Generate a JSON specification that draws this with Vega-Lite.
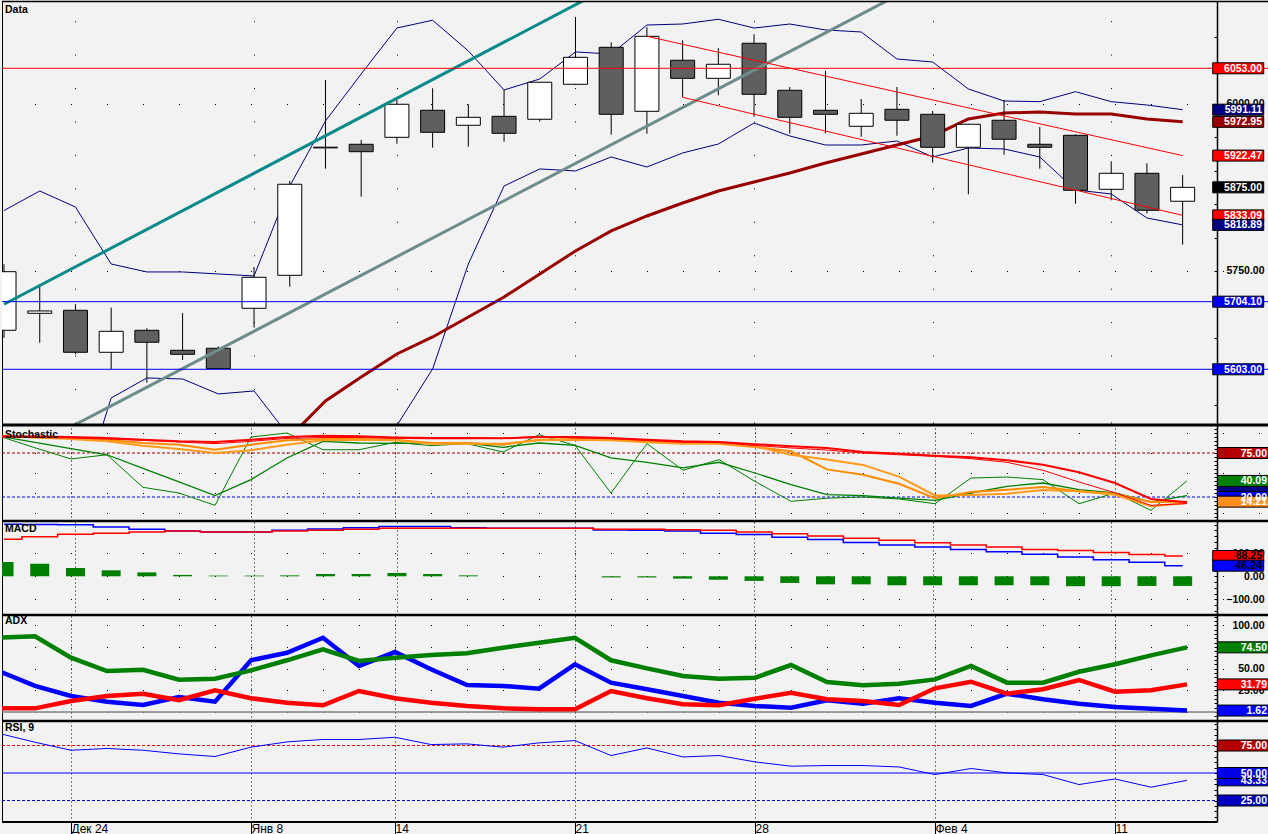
{
"$schema": "https://vega.github.io/schema/vega-lite/v6.json",
"background": "#f2f2f2",
"padding": 0,
"autosize": {"type": "pad"},
"spacing": 0,
"bounds": "flush",
"config": {"view": {"stroke": null}, "font": "Liberation Sans"},
"resolve": {"scale": {"x": "independent", "y": "independent"}, "axis": {"x": "independent", "y": "independent"}},
"datasets": {
"d": [
{"i":0,"o":5661.3,"h":5760,"l":5650,"c":5748.9,"bu":5840.3,"bl":5460,"ma":null,"r1":95.9,"r2":95,"o1":96.6,"o2":95.9,"g1":96.1,"g2":96.1,"m":226,"sg":161,"hist":62,"adx":85.6,"pdi":47,"mdi":4.2,"rsi":86},
{"i":1,"o":5686.7,"h":5730.1,"l":5642.8,"c":5690.2,"bu":5869.6,"bl":5420,"ma":null,"r1":95.5,"r2":94.4,"o1":94.4,"o2":94.8,"g1":81.5,"g2":88.3,"m":225,"sg":172,"hist":54,"adx":87.2,"pdi":30,"mdi":4.2,"rsi":78},
{"i":2,"o":5691.2,"h":5700.2,"l":5625.4,"c":5628.4,"bu":5845.6,"bl":5390,"ma":null,"r1":95,"r2":93.8,"o1":92.5,"o2":93.8,"g1":67.6,"g2":80.4,"m":224,"sg":183,"hist":36,"adx":62.6,"pdi":18.4,"mdi":12.7,"rsi":70.7},
{"i":3,"o":5628.4,"h":5695.1,"l":5603,"c":5659.8,"bu":5760.4,"bl":5560.1,"ma":null,"r1":93.8,"r2":92.5,"o1":89.6,"o2":91.6,"g1":72.8,"g2":72.8,"m":214,"sg":187,"hist":26,"adx":47.2,"pdi":11.9,"mdi":18.4,"rsi":72.3},
{"i":4,"o":5661.3,"h":5664.3,"l":5583,"c":5643.4,"bu":5748.5,"bl":5590,"ma":null,"r1":91.6,"r2":90.8,"o1":84.2,"o2":87.5,"g1":32.1,"g2":55.9,"m":204,"sg":193,"hist":17,"adx":48.7,"pdi":8.1,"mdi":21.1,"rsi":70.7},
{"i":5,"o":5631.4,"h":5687.2,"l":5616.9,"c":5625.4,"bu":5748.5,"bl":5588.5,"ma":5350,"r1":89.6,"r2":88.7,"o1":80,"o2":85.4,"g1":25,"g2":38.8,"m":197,"sg":197,"hist":6,"adx":37.2,"pdi":17.3,"mdi":13.5,"rsi":67.4},
{"i":6,"o":5634.4,"h":5637,"l":5603,"c":5604,"bu":5745.5,"bl":5566.1,"ma":5400,"r1":88.7,"r2":86.7,"o1":75,"o2":79.1,"g1":9.6,"g2":21.7,"m":193,"sg":193,"hist":3,"adx":38.4,"pdi":11.9,"mdi":25,"rsi":65},
{"i":7,"o":5694.2,"h":5755.9,"l":5665.2,"c":5740.5,"bu":5742.5,"bl":5570.6,"ma":5450,"r1":91.6,"r2":89.6,"o1":78.4,"o2":85.4,"g1":95,"g2":41.7,"m":193,"sg":193,"hist":3,"adx":48,"pdi":59.6,"mdi":15.8,"rsi":73.5},
{"i":8,"o":5743.5,"h":5884.5,"l":5726.5,"c":5879.6,"bu":5877,"bl":5501.8,"ma":5501.8,"r1":95,"r2":93.2,"o1":85.4,"o2":90.8,"g1":100,"g2":68.8,"m":200,"sg":197,"hist":4,"adx":59.6,"pdi":68.3,"mdi":10.7,"rsi":78.3},
{"i":9,"o":5935,"h":6035.5,"l":5902.9,"c":5934,"bu":5974.2,"bl":5480,"ma":5555.6,"r1":96.6,"r2":94.4,"o1":90.8,"o2":92.5,"g1":79.1,"g2":89.6,"m":206,"sg":200,"hist":10,"adx":72.2,"pdi":85.6,"mdi":7.7,"rsi":80.5},
{"i":10,"o":5939.4,"h":5945.8,"l":5861,"c":5928.3,"bu":6044.5,"bl":5490,"ma":5591.5,"r1":95.9,"r2":94.4,"o1":91.6,"o2":92.5,"g1":79.1,"g2":87.5,"m":211,"sg":204,"hist":10,"adx":58.8,"pdi":53,"mdi":24.2,"rsi":80.5},
{"i":11,"o":5949.8,"h":6005.6,"l":5940.3,"c":5999.2,"bu":6113.2,"bl":5519,"ma":5625.9,"r1":94.4,"r2":93.3,"o1":90.8,"o2":91.6,"g1":88.3,"g2":87.1,"m":216,"sg":209,"hist":14.5,"adx":62.6,"pdi":69.1,"mdi":15.8,"rsi":82.5},
{"i":12,"o":5990.2,"h":6023.1,"l":5934.3,"c":5957.3,"bu":6124.8,"bl":5603.5,"ma":5651.3,"r1":93.8,"r2":92.8,"o1":86.7,"o2":87.5,"g1":84.2,"g2":87.5,"m":216,"sg":209,"hist":10,"adx":65.7,"pdi":49.2,"mdi":10.7,"rsi":75.9},
{"i":13,"o":5967.8,"h":5999.2,"l":5935.8,"c":5979.7,"bu":6078.9,"bl":5760.4,"ma":5681.2,"r1":93.8,"r2":92.8,"o1":86.7,"o2":87.5,"g1":86.7,"g2":87.5,"m":211,"sg":209,"hist":4,"adx":67.6,"pdi":31.1,"mdi":6.9,"rsi":76.5},
{"i":14,"o":5981.2,"h":6020.6,"l":5943.3,"c":5955.8,"bu":6020.6,"bl":5877,"ma":5711.1,"r1":93.3,"r2":93.3,"o1":86.7,"o2":85.4,"g1":76.2,"g2":82.1,"m":209,"sg":209,"hist":0,"adx":74.1,"pdi":30,"mdi":4.2,"rsi":73.5},
{"i":15,"o":5976.8,"h":6032.5,"l":5973.2,"c":6032.1,"bu":6037,"bl":5902.5,"ma":5745.5,"r1":95,"r2":95.9,"o1":90.8,"o2":91.6,"g1":97.9,"g2":87.5,"m":209,"sg":209,"hist":0,"adx":79.8,"pdi":26.8,"mdi":3.1,"rsi":77.4},
{"i":16,"o":6029.1,"h":6129.7,"l":6028,"c":6069.4,"bu":6077.4,"bl":5899.5,"ma":5779.9,"r1":95,"r2":93.8,"o1":91.6,"o2":92.5,"g1":84.5,"g2":84.5,"m":209,"sg":209,"hist":0,"adx":85.6,"pdi":55,"mdi":3.1,"rsi":79.5},
{"i":17,"o":6084.4,"h":6091.9,"l":5953.7,"c":5984.2,"bu":6074.4,"bl":5920.4,"ma":5809.8,"r1":93.8,"r2":92.8,"o1":90.8,"o2":91.6,"g1":25,"g2":68.8,"m":201,"sg":204,"hist":-5,"adx":59.6,"pdi":33.8,"mdi":24.2,"rsi":65.9},
{"i":18,"o":5988.7,"h":6114.7,"l":5955.2,"c":6100.8,"bu":6117.7,"bl":5905.4,"ma":5832.2,"r1":91.6,"r2":90.8,"o1":88.4,"o2":89.6,"g1":86.7,"g2":63.4,"m":200,"sg":204,"hist":-5,"adx":50.3,"pdi":26.2,"mdi":15.8,"rsi":72.8},
{"i":19,"o":6065,"h":6094.9,"l":6009.6,"c":6038,"bu":6119.2,"bl":5926.4,"ma":5851.6,"r1":89.6,"r2":88.3,"o1":86.7,"o2":87.5,"g1":53.4,"g2":56.3,"m":197,"sg":202,"hist":-10,"adx":41.5,"pdi":18.4,"mdi":8.9,"rsi":64.6},
{"i":20,"o":6038,"h":6082.9,"l":6012.6,"c":6059,"bu":6126.3,"bl":5939.8,"ma":5869.6,"r1":88.7,"r2":88.3,"o1":87.5,"o2":86.7,"g1":66.7,"g2":63.4,"m":187,"sg":200,"hist":-15,"adx":38.4,"pdi":10.7,"mdi":7.7,"rsi":65.9},
{"i":21,"o":6090.4,"h":6103.8,"l":5980.6,"c":6014.1,"bu":6113.2,"bl":5971.2,"ma":5883,"r1":86,"r2":84.3,"o1":83.3,"o2":82.6,"g1":39.5,"g2":50,"m":182,"sg":193,"hist":-20,"adx":39.5,"pdi":6.9,"mdi":15.3,"rsi":60.1},
{"i":22,"o":6020.1,"h":6025,"l":5955.2,"c":5979.7,"bu":6119.2,"bl":5951.8,"ma":5896.5,"r1":83.3,"r2":81.3,"o1":72.8,"o2":77.1,"g1":14.6,"g2":35.4,"m":170,"sg":185,"hist":-29,"adx":54.1,"pdi":5,"mdi":22.2,"rsi":56.2},
{"i":23,"o":5990.2,"h":6049,"l":5955.8,"c":5984.2,"bu":6110.3,"bl":5938.3,"ma":5911.4,"r1":81.3,"r2":78.7,"o1":66.9,"o2":54.5,"g1":18.5,"g2":22.9,"m":160,"sg":175,"hist":-35,"adx":34.6,"pdi":13.5,"mdi":14.6,"rsi":56.8},
{"i":24,"o":5966.3,"h":6007.1,"l":5950.7,"c":5985.7,"bu":6107.3,"bl":5938.3,"ma":5924.9,"r1":76.2,"r2":75,"o1":60.1,"o2":47.8,"g1":20,"g2":21.7,"m":147,"sg":165,"hist":-35,"adx":30.7,"pdi":9.6,"mdi":12.7,"rsi":56.8},
{"i":25,"o":5991.7,"h":6025,"l":5952.2,"c":5975.3,"bu":6066.9,"bl":5944.3,"ma":5938.3,"r1":74.1,"r2":72.8,"o1":45.5,"o2":36.5,"g1":17.5,"g2":18.7,"m":136,"sg":157,"hist":-39,"adx":32.6,"pdi":15.8,"mdi":8.1,"rsi":55.5},
{"i":26,"o":5984.2,"h":5989.2,"l":5911.9,"c":5934.9,"bu":6062.4,"bl":5920.4,"ma":5951.8,"r1":71.6,"r2":70.8,"o1":21.9,"o2":18.5,"g1":11.6,"g2":15.9,"m":127,"sg":146,"hist":-39,"adx":37.6,"pdi":10.7,"mdi":27.3,"rsi":48.6},
{"i":27,"o":5934.9,"h":5970,"l":5864.6,"c":5969.3,"bu":6022.1,"bl":5933.8,"ma":5977.2,"r1":69.6,"r2":67.9,"o1":22.4,"o2":26.4,"g1":43.7,"g2":25,"m":117,"sg":136,"hist":-39,"adx":53,"pdi":6.9,"mdi":34.9,"rsi":54.1},
{"i":28,"o":5975.3,"h":6005.6,"l":5923.8,"c":5946.9,"bu":6004.1,"bl":5932.4,"ma":5986.2,"r1":65.9,"r2":63.4,"o1":24.1,"o2":29.1,"g1":45,"g2":33.4,"m":107,"sg":127,"hist":-39,"adx":33.8,"pdi":21.1,"mdi":21.1,"rsi":50.1},
{"i":29,"o":5939.4,"h":5965.2,"l":5902.9,"c":5934.9,"bu":6003.1,"bl":5920.4,"ma":5987.7,"r1":60.4,"r2":53.4,"o1":28.6,"o2":32.5,"g1":41.7,"g2":37.5,"m":96,"sg":117,"hist":-39,"adx":33.8,"pdi":14.6,"mdi":26.2,"rsi":48.6},
{"i":30,"o":5952.8,"h":5954,"l":5850.6,"c":5870.6,"bu":6018,"bl":5871.1,"ma":5984.7,"r1":50.9,"r2":38.8,"o1":27.2,"o2":27.2,"g1":11.6,"g2":29.1,"m":84,"sg":112,"hist":-43,"adx":46.4,"pdi":9.6,"mdi":36.9,"rsi":39.5},
{"i":31,"o":5872.1,"h":5914,"l":5855.7,"c":5896,"bu":6003.1,"bl":5865.1,"ma":5984.7,"r1":37.5,"r2":25.3,"o1":22.9,"o2":24.1,"g1":25,"g2":25,"m":72,"sg":103,"hist":-43,"adx":55,"pdi":5.8,"mdi":23.4,"rsi":44.6},
{"i":32,"o":5896,"h":5911,"l":5835.6,"c":5840.7,"bu":5998.1,"bl":5829.2,"ma":5977.2,"r1":17.5,"r2":9.5,"o1":8.4,"o2":13.8,"g1":3.3,"g2":13.8,"m":61,"sg":95,"hist":-42,"adx":65.3,"pdi":3.8,"mdi":25,"rsi":37.1},
{"i":33,"o":5854.2,"h":5893.5,"l":5789.3,"c":5875,"bu":5991.11,"bl":5818.89,"ma":5972.95,"r1":13.3,"r2":11.8,"o1":12.5,"o2":14.21,"g1":40.09,"g2":21.7,"m":46.24,"sg":88.25,"hist":-42,"adx":74.5,"pdi":1.62,"mdi":31.79,"rsi":43.33}
],
"teal": [{"s":"a","i":0,"v":5700.2},{"s":"a","i":17,"v":6176},{"s":"b","i":0,"v":5464.7},{"s":"b","i":25,"v":6161.7}],
"chan": [{"s":"a","i":18,"v":6100.8},{"s":"a","i":33,"v":5922.47},{"s":"b","i":19,"v":6009.6},{"s":"b","i":33,"v":5833.09}],
"lv_main": [{"v":6053,"s":"red"},{"v":5704.1,"s":"blue"},{"v":5603,"s":"blue"}],
"lv_st": [{"v":75,"s":"dred"},{"v":20,"s":"blue"}],
"lv_adx": [{"v":0}],
"lv_rsi_d": [{"v":75,"s":"red"},{"v":25,"s":"blue"}],
"lv_rsi_s": [{"v":50}],
"lab_main": [{"v":6053,"s":"red"},{"v":5991.11,"s":"navy"},{"v":5972.95,"s":"darkred"},{"v":5922.47,"s":"red"},{"v":5875,"s":"black"},{"v":5833.09,"s":"red"},{"v":5818.89,"s":"navy"},{"v":5704.1,"s":"blue"},{"v":5603,"s":"blue"}],
"lab_st": [{"v":26.8,"s":"navy"},{"v":20,"s":"blue"},{"v":40.09,"s":"green"},{"v":14.21,"s":"orange"},{"v":75,"s":"dred"}],
"lab_macd": [{"v":88.25,"s":"red"},{"v":46.24,"s":"blue"}],
"lab_adx": [{"v":74.5,"s":"green"},{"v":31.79,"s":"red"},{"v":1.62,"s":"blue"}],
"lab_rsi": [{"v":75,"s":"dred"},{"v":43.33,"s":"blue"},{"v":50,"s":"blue"},{"v":25,"s":"blue2"}]
},
"vconcat": [
{
"width": 1268, "height": 424,
"title": {"text": "Data", "anchor": "start", "frame": "group", "offset": -15, "dx": 3, "fontSize": 10.5, "fontWeight": "bold", "color": "#000", "font": "Liberation Sans"},
"resolve": {"axis": {"x": "independent", "y": "independent"}},
"layer": [
{"data": {"name": "d"}, "mark": {"type": "line", "color": "#000080", "strokeWidth": 1, "clip": true},
 "encoding": {
  "x": {"field": "i", "type": "quantitative", "scale": {"domain": [0.0833, 35.3056], "nice": false, "zero": false},
        "axis": {"orient": "top", "values": [2,7,11,16,21,26,31], "labels": false, "ticks": false, "domain": false, "grid": true, "gridColor": "#000", "gridWidth": 1, "gridDash": [1, 32.44], "gridDashOffset": 31.4, "title": null}},
  "y": {"field": "bu", "type": "quantitative", "scale": {"domain": [5519.7, 6153.6], "nice": false, "zero": false},
        "axis": {"orient": "right", "offset": -53, "values": [5550,5600,5650,5700,5750,5800,5850,5900,5950,6000,6050,6100], "labelExpr": "datum.value % 250 == 0 ? format(datum.value, '.2f') : ''", "tickSize": -3, "tickColor": "#000", "domainColor": "#000", "domainWidth": 1.5, "labelPadding": 50, "labelAlign": "right", "labelBaseline": "middle", "labelFontSize": 10.5, "labelFontWeight": "bold", "labelColor": "#000", "labelFont": "Liberation Sans", "grid": false, "title": null, "labelOverlap": false, "labelFlush": false}}
 }},
{"data": {"name": "d"}, "mark": {"type": "line", "color": "#000080", "strokeWidth": 1, "clip": true},
 "encoding": {
  "x": {"field": "i", "type": "quantitative", "scale": {"domain": [0.0833, 35.3056], "nice": false, "zero": false}, "axis": null},
  "y": {"field": "bl", "type": "quantitative", "scale": {"domain": [5519.7, 6153.6], "nice": false, "zero": false},
        "axis": {"orient": "left", "values": [5750, 6000], "labels": false, "ticks": false, "domain": true, "domainColor": "#000", "domainWidth": 1, "grid": true, "gridColor": "#000", "gridWidth": 1, "gridDash": [1, 35], "gridDashOffset": 3.5, "title": null}}
 }},
{"data": {"name": "d"}, "mark": {"type": "line", "color": "#990000", "strokeWidth": 3, "clip": true},
 "encoding": {
  "x": {"field": "i", "type": "quantitative", "scale": {"domain": [0.0833, 35.3056], "nice": false, "zero": false}, "axis": null},
  "y": {"field": "ma", "type": "quantitative", "scale": {"domain": [5519.7, 6153.6], "nice": false, "zero": false}, "axis": null}
 }},
{"data": {"name": "d"}, "mark": {"type": "rule", "color": "#000", "strokeWidth": 1, "clip": true},
 "encoding": {
  "x": {"field": "i", "type": "quantitative", "scale": {"domain": [0.0833, 35.3056], "nice": false, "zero": false}, "axis": null},
  "y": {"field": "l", "type": "quantitative", "scale": {"domain": [5519.7, 6153.6], "nice": false, "zero": false}, "axis": null},
  "y2": {"field": "h"}
 }},
{"data": {"name": "d"}, "mark": {"type": "bar", "width": 24, "stroke": "#000", "strokeWidth": 1, "orient": "vertical", "clip": true},
 "encoding": {
  "x": {"field": "i", "type": "quantitative", "scale": {"domain": [0.0833, 35.3056], "nice": false, "zero": false}, "axis": null},
  "y": {"field": "o", "type": "quantitative", "scale": {"domain": [5519.7, 6153.6], "nice": false, "zero": false}, "axis": null},
  "y2": {"field": "c"},
  "fill": {"condition": {"test": "datum.c >= datum.o", "value": "#ffffff"}, "value": "#5f5f5f"}
 }},
{"data": {"name": "teal"}, "mark": {"type": "line", "strokeWidth": 3, "clip": true},
 "encoding": {
  "x": {"field": "i", "type": "quantitative", "scale": {"domain": [0.0833, 35.3056], "nice": false, "zero": false}, "axis": null},
  "y": {"field": "v", "type": "quantitative", "scale": {"domain": [5519.7, 6153.6], "nice": false, "zero": false}, "axis": null},
  "detail": {"field": "s"},
  "stroke": {"condition": {"test": "datum.s == 'a'", "value": "#0a8a8a"}, "value": "#6e8c8c"}
 }},
{"data": {"name": "chan"}, "mark": {"type": "line", "strokeWidth": 1, "color": "#ff0000", "clip": true},
 "encoding": {
  "x": {"field": "i", "type": "quantitative", "scale": {"domain": [0.0833, 35.3056], "nice": false, "zero": false}, "axis": null},
  "y": {"field": "v", "type": "quantitative", "scale": {"domain": [5519.7, 6153.6], "nice": false, "zero": false}, "axis": null},
  "detail": {"field": "s"}
 }},
{"data": {"name": "lv_main"}, "mark": {"type": "rule", "strokeWidth": 1},
 "encoding": {
  "y": {"field": "v", "type": "quantitative", "scale": {"domain": [5519.7, 6153.6], "nice": false, "zero": false}, "axis": null},
  "stroke": {"condition": {"test": "datum.s == 'red'", "value": "#ff0000"}, "value": "#0000ee"}
 }},
{"data": {"name": "lab_main"}, "mark": {"type": "tick", "orient": "horizontal", "size": 51, "thickness": 11, "stroke": "#000", "strokeWidth": 1, "opacity": 1},
 "encoding": {
  "x": {"datum": 34.5556, "type": "quantitative", "scale": {"domain": [0.0833, 35.3056], "nice": false, "zero": false}, "axis": null},
  "y": {"field": "v", "type": "quantitative", "scale": {"domain": [5519.7, 6153.6], "nice": false, "zero": false}, "axis": null},
  "fill": {"condition": [{"test": "datum.s == 'red'", "value": "#ff0000"}, {"test": "datum.s == 'navy'", "value": "#000080"}, {"test": "datum.s == 'darkred'", "value": "#990000"}, {"test": "datum.s == 'blue'", "value": "#0000ee"}], "value": "#000000"}
 }},
{"data": {"name": "lab_main"}, "mark": {"type": "text", "align": "right", "baseline": "middle", "fontSize": 10.5, "fontWeight": "bold", "color": "#ffffff", "dy": 0.5},
 "encoding": {
  "x": {"datum": 35.2222, "type": "quantitative", "scale": {"domain": [0.0833, 35.3056], "nice": false, "zero": false}, "axis": null},
  "y": {"field": "v", "type": "quantitative", "scale": {"domain": [5519.7, 6153.6], "nice": false, "zero": false}, "axis": null},
  "text": {"field": "v", "type": "quantitative", "format": ".2f"}
 }},
{"data": {"values": [{}]}, "mark": {"type": "rule", "color": "#000", "strokeWidth": 1.5},
 "encoding": {"y": {"datum": 6152.9, "type": "quantitative", "scale": {"domain": [5519.7, 6153.6], "nice": false, "zero": false}, "axis": null}}},
{"data": {"values": [{}]}, "mark": {"type": "rule", "color": "#000", "strokeWidth": 3},
 "encoding": {"y": {"datum": 5519.7, "type": "quantitative", "scale": {"domain": [5519.7, 6153.6], "nice": false, "zero": false}, "axis": null}}}
]
},
{
"width": 1268, "height": 96,
"title": {"text": "Stochastic", "anchor": "start", "frame": "group", "offset": -15, "dx": 3, "fontSize": 10.5, "fontWeight": "bold", "color": "#000", "font": "Liberation Sans"},
"resolve": {"axis": {"x": "independent", "y": "independent"}},
"layer": [
{"data": {"name": "lv_st"}, "mark": {"type": "rule", "strokeWidth": 1, "strokeDash": [3, 2]},
 "encoding": {
  "y": {"field": "v", "type": "quantitative", "scale": {"domain": [-10, 110], "nice": false, "zero": false},
        "axis": {"orient": "left", "values": [0, 25, 50, 75, 100], "labels": false, "ticks": false, "domain": true, "domainColor": "#000", "domainWidth": 1, "grid": true, "gridColor": "#000", "gridWidth": 1, "gridDash": [1, 35], "gridDashOffset": 3.5, "title": null}},
  "stroke": {"condition": {"test": "datum.s == 'dred'", "value": "#a00000"}, "value": "#0000ff"}
 }},
{"data": {"name": "d"}, "mark": {"type": "line", "color": "#008000", "strokeWidth": 1, "clip": true},
 "encoding": {
  "x": {"field": "i", "type": "quantitative", "scale": {"domain": [0.0833, 35.3056], "nice": false, "zero": false},
        "axis": {"orient": "top", "values": [2,7,11,16,21,26,31], "labels": false, "ticks": false, "domain": false, "grid": true, "gridColor": "#000", "gridWidth": 1, "gridDash": [1, 3], "title": null}},
  "y": {"field": "g1", "type": "quantitative", "scale": {"domain": [-10, 110], "nice": false, "zero": false},
        "axis": {"orient": "right", "offset": -53, "values": [-5,0,5,10,15,20,25,30,35,40,45,50,55,60,65,70,75,80,85,90,95,100,105], "labels": false, "tickSize": -3, "tickColor": "#000", "domainColor": "#000", "domainWidth": 1.5, "grid": false, "title": null}}
 }},
{"data": {"name": "d"}, "mark": {"type": "line", "color": "#008000", "strokeWidth": 1.3, "clip": true},
 "encoding": {
  "x": {"field": "i", "type": "quantitative", "scale": {"domain": [0.0833, 35.3056], "nice": false, "zero": false}, "axis": null},
  "y": {"field": "g2", "type": "quantitative", "scale": {"domain": [-10, 110], "nice": false, "zero": false}, "axis": null}
 }},
{"data": {"name": "d"}, "mark": {"type": "line", "color": "#ff8c00", "strokeWidth": 2, "clip": true},
 "encoding": {
  "x": {"field": "i", "type": "quantitative", "scale": {"domain": [0.0833, 35.3056], "nice": false, "zero": false}, "axis": null},
  "y": {"field": "o2", "type": "quantitative", "scale": {"domain": [-10, 110], "nice": false, "zero": false}, "axis": null}
 }},
{"data": {"name": "d"}, "mark": {"type": "line", "color": "#ff9a1a", "strokeWidth": 2, "clip": true},
 "encoding": {
  "x": {"field": "i", "type": "quantitative", "scale": {"domain": [0.0833, 35.3056], "nice": false, "zero": false}, "axis": null},
  "y": {"field": "o1", "type": "quantitative", "scale": {"domain": [-10, 110], "nice": false, "zero": false}, "axis": null}
 }},
{"data": {"name": "d"}, "mark": {"type": "line", "color": "#ff0000", "strokeWidth": 1, "clip": true},
 "encoding": {
  "x": {"field": "i", "type": "quantitative", "scale": {"domain": [0.0833, 35.3056], "nice": false, "zero": false}, "axis": null},
  "y": {"field": "r2", "type": "quantitative", "scale": {"domain": [-10, 110], "nice": false, "zero": false}, "axis": null}
 }},
{"data": {"name": "d"}, "mark": {"type": "line", "color": "#ff0000", "strokeWidth": 2, "clip": true},
 "encoding": {
  "x": {"field": "i", "type": "quantitative", "scale": {"domain": [0.0833, 35.3056], "nice": false, "zero": false}, "axis": null},
  "y": {"field": "r1", "type": "quantitative", "scale": {"domain": [-10, 110], "nice": false, "zero": false}, "axis": null}
 }},
{"data": {"name": "lab_st"}, "mark": {"type": "tick", "orient": "horizontal", "size": 51, "thickness": 11, "stroke": "#000", "strokeWidth": 1, "opacity": 1},
 "encoding": {
  "x": {"datum": 34.5556, "type": "quantitative", "scale": {"domain": [0.0833, 35.3056], "nice": false, "zero": false}, "axis": null},
  "y": {"field": "v", "type": "quantitative", "scale": {"domain": [-10, 110], "nice": false, "zero": false}, "axis": null},
  "fill": {"condition": [{"test": "datum.s == 'navy'", "value": "#000080"}, {"test": "datum.s == 'blue'", "value": "#0000ee"}, {"test": "datum.s == 'green'", "value": "#008000"}, {"test": "datum.s == 'orange'", "value": "#ff9020"}], "value": "#b40000"}
 }},
{"data": {"name": "lab_st"}, "transform": [{"filter": "datum.s != 'navy'"}], "mark": {"type": "text", "align": "right", "baseline": "middle", "fontSize": 10.5, "fontWeight": "bold", "color": "#ffffff", "dy": 0.5},
 "encoding": {
  "x": {"datum": 35.2222, "type": "quantitative", "scale": {"domain": [0.0833, 35.3056], "nice": false, "zero": false}, "axis": null},
  "y": {"field": "v", "type": "quantitative", "scale": {"domain": [-10, 110], "nice": false, "zero": false}, "axis": null},
  "text": {"field": "v", "type": "quantitative", "format": ".2f"}
 }},
{"data": {"values": [{}]}, "mark": {"type": "rule", "color": "#000", "strokeWidth": 2.5},
 "encoding": {"y": {"datum": -10, "type": "quantitative", "scale": {"domain": [-10, 110], "nice": false, "zero": false}, "axis": null}}}
]
},
{
"width": 1268, "height": 94,
"title": {"text": "MACD", "anchor": "start", "frame": "group", "offset": -15, "dx": 3, "fontSize": 10.5, "fontWeight": "bold", "color": "#000", "font": "Liberation Sans"},
"resolve": {"axis": {"x": "independent", "y": "independent"}},
"layer": [
{"data": {"name": "d"}, "mark": {"type": "bar", "width": 19, "color": "#008000", "orient": "vertical", "clip": true},
 "encoding": {
  "x": {"field": "i", "type": "quantitative", "scale": {"domain": [0.0833, 35.3056], "nice": false, "zero": false},
        "axis": {"orient": "top", "values": [2,7,11,16,21,26,31], "labels": false, "ticks": false, "domain": false, "grid": true, "gridColor": "#000", "gridWidth": 1, "gridDash": [1, 3], "title": null}},
  "y": {"field": "hist", "type": "quantitative", "scale": {"domain": [-168.3, 240.4], "nice": false, "zero": false},
        "axis": {"orient": "right", "offset": -53, "values": [-150,-125,-100,-75,-50,-25,0,25,50,75,100,125,150,175,200,225], "labelExpr": "(datum.value == 100 || datum.value == 0 || datum.value == -100) ? format(datum.value, '.2f') : ''", "tickSize": -3, "tickColor": "#000", "domainColor": "#000", "domainWidth": 1.5, "labelPadding": 50, "labelAlign": "right", "labelBaseline": "middle", "labelFontSize": 10.5, "labelFontWeight": "bold", "labelColor": "#000", "labelFont": "Liberation Sans", "grid": false, "title": null, "labelOverlap": false, "labelFlush": false}},
  "y2": {"datum": 0}
 }},
{"data": {"name": "d"}, "mark": {"type": "line", "color": "#0000ff", "strokeWidth": 1.5, "interpolate": "step", "clip": true},
 "encoding": {
  "x": {"field": "i", "type": "quantitative", "scale": {"domain": [0.0833, 35.3056], "nice": false, "zero": false}, "axis": null},
  "y": {"field": "m", "type": "quantitative", "scale": {"domain": [-168.3, 240.4], "nice": false, "zero": false},
        "axis": {"orient": "left", "values": [-100, 0, 100], "labels": false, "ticks": false, "domain": true, "domainColor": "#000", "domainWidth": 1, "grid": true, "gridColor": "#000", "gridWidth": 1, "gridDash": [1, 35], "gridDashOffset": 3.5, "title": null}}
 }},
{"data": {"name": "d"}, "mark": {"type": "line", "color": "#ff0000", "strokeWidth": 1.5, "interpolate": "step", "clip": true},
 "encoding": {
  "x": {"field": "i", "type": "quantitative", "scale": {"domain": [0.0833, 35.3056], "nice": false, "zero": false}, "axis": null},
  "y": {"field": "sg", "type": "quantitative", "scale": {"domain": [-168.3, 240.4], "nice": false, "zero": false}, "axis": null}
 }},
{"data": {"name": "lab_macd"}, "mark": {"type": "tick", "orient": "horizontal", "size": 51, "thickness": 11, "stroke": "#000", "strokeWidth": 1, "opacity": 1},
 "encoding": {
  "x": {"datum": 34.5556, "type": "quantitative", "scale": {"domain": [0.0833, 35.3056], "nice": false, "zero": false}, "axis": null},
  "y": {"field": "v", "type": "quantitative", "scale": {"domain": [-168.3, 240.4], "nice": false, "zero": false}, "axis": null},
  "fill": {"condition": {"test": "datum.s == 'red'", "value": "#ff0000"}, "value": "#0000ff"}
 }},
{"data": {"name": "lab_macd"}, "mark": {"type": "text", "align": "right", "baseline": "middle", "fontSize": 10.5, "fontWeight": "bold", "color": "#000000", "dy": 0.5},
 "encoding": {
  "x": {"datum": 35.2222, "type": "quantitative", "scale": {"domain": [0.0833, 35.3056], "nice": false, "zero": false}, "axis": null},
  "y": {"field": "v", "type": "quantitative", "scale": {"domain": [-168.3, 240.4], "nice": false, "zero": false}, "axis": null},
  "text": {"field": "v", "type": "quantitative", "format": ".2f"}
 }},
{"data": {"values": [{}]}, "mark": {"type": "rule", "color": "#000", "strokeWidth": 2.5},
 "encoding": {"y": {"datum": -168.3, "type": "quantitative", "scale": {"domain": [-168.3, 240.4], "nice": false, "zero": false}, "axis": null}}}
]
},
{
"width": 1268, "height": 106,
"title": {"text": "ADX", "anchor": "start", "frame": "group", "offset": -15, "dx": 3, "fontSize": 10.5, "fontWeight": "bold", "color": "#000", "font": "Liberation Sans"},
"resolve": {"axis": {"x": "independent", "y": "independent"}},
"layer": [
{"data": {"name": "lv_adx"}, "mark": {"type": "rule", "color": "#808080", "strokeWidth": 1.5},
 "encoding": {
  "y": {"field": "v", "type": "quantitative", "scale": {"domain": [-10.4, 111.8], "nice": false, "zero": false}, "axis": null}
 }},
{"data": {"name": "d"}, "mark": {"type": "line", "color": "#0000ff", "strokeWidth": 4.5, "clip": true},
 "encoding": {
  "x": {"field": "i", "type": "quantitative", "scale": {"domain": [0.0833, 35.3056], "nice": false, "zero": false},
        "axis": {"orient": "top", "values": [2,7,11,16,21,26,31], "labels": false, "ticks": false, "domain": false, "grid": true, "gridColor": "#000", "gridWidth": 1, "gridDash": [1, 3], "title": null}},
  "y": {"field": "pdi", "type": "quantitative", "scale": {"domain": [-10.4, 111.8], "nice": false, "zero": false},
        "axis": {"orient": "right", "offset": -53, "values": [-5,0,5,10,15,20,25,30,35,40,45,50,55,60,65,70,75,80,85,90,95,100,105,110], "labelExpr": "datum.value % 25 == 0 ? format(datum.value, '.2f') : ''", "tickSize": -3, "tickColor": "#000", "domainColor": "#000", "domainWidth": 1.5, "labelPadding": 50, "labelAlign": "right", "labelBaseline": "middle", "labelFontSize": 10.5, "labelFontWeight": "bold", "labelColor": "#000", "labelFont": "Liberation Sans", "grid": false, "title": null, "labelOverlap": false, "labelFlush": false}}
 }},
{"data": {"name": "d"}, "mark": {"type": "line", "color": "#ff0000", "strokeWidth": 4.5, "clip": true},
 "encoding": {
  "x": {"field": "i", "type": "quantitative", "scale": {"domain": [0.0833, 35.3056], "nice": false, "zero": false}, "axis": null},
  "y": {"field": "mdi", "type": "quantitative", "scale": {"domain": [-10.4, 111.8], "nice": false, "zero": false},
        "axis": {"orient": "left", "values": [0, 25, 50, 75, 100], "labels": false, "ticks": false, "domain": true, "domainColor": "#000", "domainWidth": 1, "grid": true, "gridColor": "#000", "gridWidth": 1, "gridDash": [1, 35], "gridDashOffset": 3.5, "title": null}}
 }},
{"data": {"name": "d"}, "mark": {"type": "line", "color": "#008000", "strokeWidth": 4.5, "clip": true},
 "encoding": {
  "x": {"field": "i", "type": "quantitative", "scale": {"domain": [0.0833, 35.3056], "nice": false, "zero": false}, "axis": null},
  "y": {"field": "adx", "type": "quantitative", "scale": {"domain": [-10.4, 111.8], "nice": false, "zero": false}, "axis": null}
 }},
{"data": {"name": "lab_adx"}, "mark": {"type": "tick", "orient": "horizontal", "size": 51, "thickness": 11, "stroke": "#000", "strokeWidth": 1, "opacity": 1},
 "encoding": {
  "x": {"datum": 34.5556, "type": "quantitative", "scale": {"domain": [0.0833, 35.3056], "nice": false, "zero": false}, "axis": null},
  "y": {"field": "v", "type": "quantitative", "scale": {"domain": [-10.4, 111.8], "nice": false, "zero": false}, "axis": null},
  "fill": {"condition": [{"test": "datum.s == 'green'", "value": "#008000"}, {"test": "datum.s == 'red'", "value": "#ff0000"}], "value": "#0000ff"}
 }},
{"data": {"name": "lab_adx"}, "mark": {"type": "text", "align": "right", "baseline": "middle", "fontSize": 10.5, "fontWeight": "bold", "color": "#ffffff", "dy": 0.5},
 "encoding": {
  "x": {"datum": 35.2222, "type": "quantitative", "scale": {"domain": [0.0833, 35.3056], "nice": false, "zero": false}, "axis": null},
  "y": {"field": "v", "type": "quantitative", "scale": {"domain": [-10.4, 111.8], "nice": false, "zero": false}, "axis": null},
  "text": {"field": "v", "type": "quantitative", "format": ".2f"}
 }},
{"data": {"values": [{}]}, "mark": {"type": "rule", "color": "#000", "strokeWidth": 2.5},
 "encoding": {"y": {"datum": -10.4, "type": "quantitative", "scale": {"domain": [-10.4, 111.8], "nice": false, "zero": false}, "axis": null}}}
]
},
{
"width": 1268, "height": 101,
"title": {"text": "RSI, 9", "anchor": "start", "frame": "group", "offset": -15, "dx": 3, "fontSize": 10.5, "fontWeight": "bold", "color": "#000", "font": "Liberation Sans"},
"resolve": {"axis": {"x": "independent", "y": "independent"}},
"layer": [
{"data": {"name": "lv_rsi_d"}, "mark": {"type": "rule", "strokeWidth": 1, "strokeDash": [3, 2]},
 "encoding": {
  "y": {"field": "v", "type": "quantitative", "scale": {"domain": [5.45, 97.3], "nice": false, "zero": false},
        "axis": {"orient": "left", "values": [25, 50, 75], "labels": false, "ticks": false, "domain": true, "domainColor": "#000", "domainWidth": 1, "grid": false, "title": null}},
  "stroke": {"condition": {"test": "datum.s == 'red'", "value": "#e00000"}, "value": "#0000cc"}
 }},
{"data": {"name": "lv_rsi_s"}, "mark": {"type": "rule", "strokeWidth": 1, "color": "#0000ff"},
 "encoding": {
  "y": {"field": "v", "type": "quantitative", "scale": {"domain": [5.45, 97.3], "nice": false, "zero": false}, "axis": null}
 }},
{"data": {"name": "d"}, "mark": {"type": "line", "color": "#0000ff", "strokeWidth": 1, "clip": true},
 "encoding": {
  "x": {"field": "i", "type": "quantitative", "scale": {"domain": [0.0833, 35.3056], "nice": false, "zero": false},
        "axis": {"orient": "top", "values": [2,7,11,16,21,26,31], "labels": false, "ticks": false, "domain": false, "grid": true, "gridColor": "#000", "gridWidth": 1, "gridDash": [1, 3], "title": null}},
  "y": {"field": "rsi", "type": "quantitative", "scale": {"domain": [5.45, 97.3], "nice": false, "zero": false},
        "axis": {"orient": "right", "offset": -53, "values": [10,15,20,25,30,35,40,45,50,55,60,65,70,75,80,85,90,95], "labelExpr": "datum.value % 25 == 0 ? format(datum.value, '.2f') : ''", "tickSize": -3, "tickColor": "#000", "domainColor": "#000", "domainWidth": 1.5, "labelPadding": 50, "labelAlign": "right", "labelBaseline": "middle", "labelFontSize": 10.5, "labelFontWeight": "bold", "labelColor": "#000", "labelFont": "Liberation Sans", "grid": false, "title": null, "labelOverlap": false, "labelFlush": false}}
 }},
{"data": {"name": "lab_rsi"}, "mark": {"type": "tick", "orient": "horizontal", "size": 51, "thickness": 11, "stroke": "#000", "strokeWidth": 1, "opacity": 1},
 "encoding": {
  "x": {"datum": 34.5556, "type": "quantitative", "scale": {"domain": [0.0833, 35.3056], "nice": false, "zero": false}, "axis": null},
  "y": {"field": "v", "type": "quantitative", "scale": {"domain": [5.45, 97.3], "nice": false, "zero": false}, "axis": null},
  "fill": {"condition": [{"test": "datum.s == 'dred'", "value": "#b40000"}, {"test": "datum.s == 'blue'", "value": "#0000e6"}], "value": "#0000c0"}
 }},
{"data": {"name": "lab_rsi"}, "mark": {"type": "text", "align": "right", "baseline": "middle", "fontSize": 10.5, "fontWeight": "bold", "color": "#ffffff", "dy": 0.5},
 "encoding": {
  "x": {"datum": 35.2222, "type": "quantitative", "scale": {"domain": [0.0833, 35.3056], "nice": false, "zero": false}, "axis": null},
  "y": {"field": "v", "type": "quantitative", "scale": {"domain": [5.45, 97.3], "nice": false, "zero": false}, "axis": null},
  "text": {"field": "v", "type": "quantitative", "format": ".2f"}
 }},
{"data": {"values": [{}]}, "mark": {"type": "rule", "color": "#000", "strokeWidth": 2},
 "encoding": {
  "x": {"datum": 0.0833, "type": "quantitative", "scale": {"domain": [0.0833, 35.3056], "nice": false, "zero": false},
        "axis": {"orient": "bottom", "values": [2,7,11,16,21,26,31], "labelExpr": "datum.value == 2 ? 'Дек 24' : datum.value == 7 ? 'Янв 8' : datum.value == 11 ? '14' : datum.value == 16 ? '21' : datum.value == 21 ? '28' : datum.value == 26 ? 'Фев 4' : '11'", "domain": false, "ticks": true, "tickSize": 13, "tickColor": "#000", "tickWidth": 1, "labelPadding": -12, "labelAlign": "left", "labelBaseline": "top", "labelDx": 2, "labelFontSize": 12, "labelFont": "Liberation Sans", "labelColor": "#000", "grid": false, "title": null, "labelOverlap": false, "labelFlush": false}},
  "x2": {"datum": 33.833},
  "y": {"datum": 5.45, "type": "quantitative", "scale": {"domain": [5.45, 97.3], "nice": false, "zero": false}, "axis": null}
 }}
]
}
]
}
